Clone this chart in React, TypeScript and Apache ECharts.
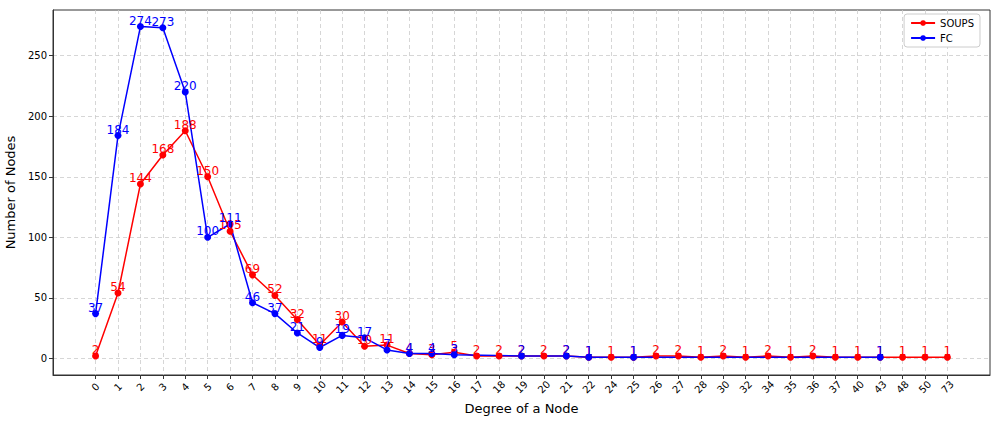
import React, { useEffect, useRef } from "react";
import * as echarts from "echarts";

const categories = ["0","1","2","3","4","5","6","7","8","9","10","11","12","13","14","15","16","17","18","19","20","21","22","24","25","26","27","28","30","32","34","35","36","37","40","43","48","50","73"];

// SOUPS values per category (null = no point)
const soups: (number | null)[] = [2,54,144,168,188,150,105,69,52,32,11,30,10,11,4,3,5,2,2,2,2,2,1,1,1,2,2,1,2,1,2,1,2,1,1,1,1,1,1];
// FC values per category (null = no point)
const fc: (number | null)[] = [37,184,274,273,220,100,111,46,37,21,9,19,17,7,4,4,3,null,null,2,null,2,1,null,1,null,null,null,null,null,null,null,null,null,null,1,null,null,null];

const yTicks = [0, 50, 100, 150, 200, 250];

const toPairs = (arr: (number | null)[]) =>
  arr.map((v, i) => (v === null ? null : [i, v])).filter((p) => p !== null) as number[][];

export default function App() {
  const ref = useRef<HTMLDivElement>(null);
  useEffect(() => {
    if (!ref.current) return;
    const chart = echarts.init(ref.current, null, { renderer: "svg" });
    const font = "DejaVu Sans";
    const mk = (name: string, color: string, arr: (number | null)[]) => ({
      name,
      type: "line",
      data: toPairs(arr),
      symbol: "circle",
      symbolSize: 7,
      lineStyle: { color, width: 1.5 },
      itemStyle: { color },
      label: {
        show: true,
        position: "inside",
        offset: [0, -6],
        color,
        fontSize: 12,
        fontFamily: font,
        formatter: (p: any) => String(p.value[1]),
      },
    });
    chart.setOption({
      animation: false,
      backgroundColor: "#ffffff",
      textStyle: { fontFamily: font },
      grid: {
        left: 53, right: 7, top: 10, bottom: 52,
        show: true, borderColor: "#333", borderWidth: 1, containLabel: false,
        outerBoundsMode: "none",
      },
      legend: {
        right: 17, top: 14, orient: "vertical",
        data: ["SOUPS", "FC"],
        itemWidth: 24, itemHeight: 7, itemGap: 5,
        padding: [4, 6, 4, 6],
        borderColor: "#cccccc", borderWidth: 1, borderRadius: 3,
        backgroundColor: "#ffffff",
        textStyle: { fontSize: 10, color: "#000", fontFamily: font },
      },
      xAxis: {
        type: "value",
        min: -1.9, max: 39.9,
        name: "Degree of a Node",
        nameLocation: "middle",
        nameGap: 27,
        nameTextStyle: { fontSize: 13, color: "#000", fontFamily: font },
        axisLine: { show: true, onZero: false, lineStyle: { color: "#333" } },
        axisTick: { show: true, length: 4, customValues: categories.map((_, i) => i), lineStyle: { color: "#333" } },
        axisLabel: {
          customValues: categories.map((_, i) => i),
          formatter: (v: number) => categories[Math.round(v)] ?? "",
          rotate: 45, fontSize: 10, color: "#000", fontFamily: font, margin: 12,
          align: "center", verticalAlign: "middle",
        },
        splitLine: { show: true, lineStyle: { color: "#cccccc", type: [4, 3], width: 0.8 } },
      },
      yAxis: {
        type: "value",
        min: -13.7, max: 287.7,
        name: "Number of Nodes",
        nameLocation: "middle",
        nameGap: 30,
        nameTextStyle: { fontSize: 13, color: "#000", fontFamily: font },
        axisLine: { show: true, onZero: false, lineStyle: { color: "#333" } },
        axisTick: { show: true, length: 4, customValues: yTicks, lineStyle: { color: "#333" } },
        axisLabel: { customValues: yTicks, fontSize: 10, color: "#000", fontFamily: font, margin: 6 },
        splitLine: { show: true, lineStyle: { color: "#cccccc", type: [4, 3], width: 0.8 } },
      },
      series: [mk("SOUPS", "#ff0000", soups), mk("FC", "#0000ff", fc)],
    });
    return () => chart.dispose();
  }, []);
  return <div ref={ref} style={{ position: "absolute", left: 0, top: 0, width: 997, height: 427 }} />;
}
